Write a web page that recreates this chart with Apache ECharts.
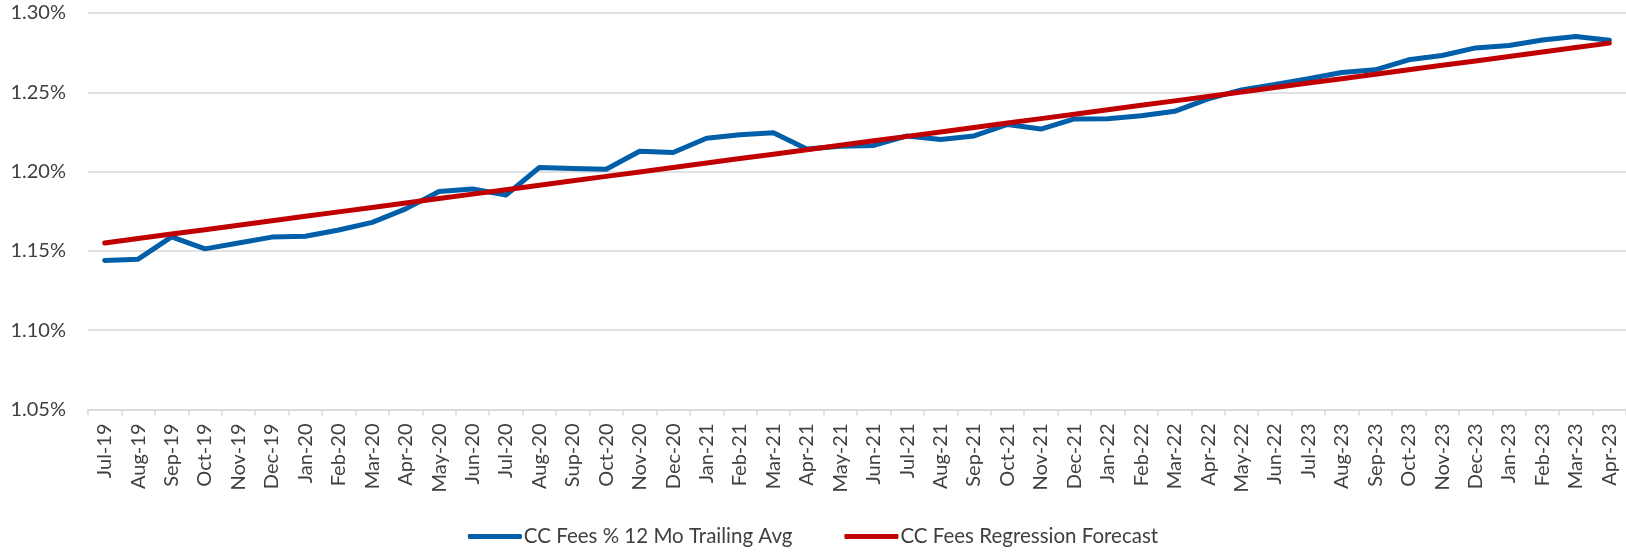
<!DOCTYPE html>
<html>
<head>
<meta charset="utf-8">
<title>CC Fees</title>
<script src="https://cdn.jsdelivr.net/npm/echarts@6/dist/echarts.min.js"></script>
<style>
  html, body { margin: 0; padding: 0; background: #fff; }
  #chart { width: 1626px; height: 552px; }
</style>
</head>
<body>
<div id="chart"></div>
<script>
// month labels, as printed on the axis (typos kept)
const months = [
  'Jul-19', 'Aug-19', 'Sep-19', 'Oct-19', 'Nov-19', 'Dec-19',
  'Jan-20', 'Feb-20', 'Mar-20', 'Apr-20', 'May-20', 'Jun-20',
  'Jul-20', 'Aug-20', 'Sup-20', 'Oct-20', 'Nov-20', 'Dec-20',
  'Jan-21', 'Feb-21', 'Mar-21', 'Apr-21', 'May-21', 'Jun-21',
  'Jul-21', 'Aug-21', 'Sep-21', 'Oct-21', 'Nov-21', 'Dec-21',
  'Jan-22', 'Feb-22', 'Mar-22', 'Apr-22', 'May-22', 'Jun-22',
  'Jul-23', 'Aug-23', 'Sep-23', 'Oct-23', 'Nov-23', 'Dec-23',
  'Jan-23', 'Feb-23', 'Mar-23', 'Apr-23'
];

// CC fees %, 12 month trailing average
const trailingAvg = [
  1.1440, 1.1448, 1.1588, 1.1513, 1.1550, 1.1587,
  1.1592, 1.1632, 1.1680, 1.1765, 1.1875, 1.1890,
  1.1852, 1.2026, 1.2020, 1.2015, 1.2128, 1.2120,
  1.2210, 1.2232, 1.2245, 1.2142, 1.2160, 1.2165,
  1.2225, 1.2202, 1.2225, 1.2297, 1.2268, 1.2332,
  1.2333, 1.2352, 1.2380, 1.2458, 1.2515, 1.2550,
  1.2585, 1.2625, 1.2642, 1.2705, 1.2732, 1.2780,
  1.2795, 1.2830, 1.2852, 1.2828
];

// regression forecast
const regression = [
  1.1550, 1.1578, 1.1606, 1.1634, 1.1662, 1.1690,
  1.1718, 1.1746, 1.1774, 1.1802, 1.1830, 1.1858,
  1.1886, 1.1914, 1.1942, 1.1970, 1.1998, 1.2026,
  1.2054, 1.2082, 1.2110, 1.2138, 1.2166, 1.2194,
  1.2222, 1.2250, 1.2278, 1.2306, 1.2334, 1.2362,
  1.2390, 1.2418, 1.2446, 1.2474, 1.2502, 1.2530,
  1.2558, 1.2586, 1.2614, 1.2642, 1.2670, 1.2698,
  1.2726, 1.2754, 1.2782, 1.2810
];

const txt = '#404040';
const font = 'Lato, "Open Sans", sans-serif';

const chart = echarts.init(document.getElementById('chart'));
chart.setOption({
  animation: false,
  textStyle: { fontFamily: font },
  grid: { left: 88, right: 0, top: 13, bottom: 142.5, containLabel: false },
  legend: {
    bottom: 0,
    left: 'center',
    icon: 'roundRect',
    itemWidth: 54,
    itemHeight: 5,
    itemGap: 52,
    textStyle: { color: txt, fontSize: 20.5, fontFamily: font, padding: [0, 0, 0, -3] },
    data: ['CC Fees % 12 Mo Trailing Avg', 'CC Fees Regression Forecast']
  },
  xAxis: {
    type: 'category',
    data: months,
    boundaryGap: true,
    axisLine: { lineStyle: { color: '#d9d9d9', width: 1.5 } },
    axisTick: { show: true, length: 6, lineStyle: { color: '#d9d9d9', width: 1.5 } },
    axisLabel: { interval: 0, rotate: 90, margin: 14, color: txt, fontSize: 20 },
    splitLine: { show: false }
  },
  yAxis: {
    type: 'value',
    min: 1.05,
    max: 1.30,
    interval: 0.05,
    axisLine: { show: false },
    axisTick: { show: false },
    axisLabel: {
      color: txt,
      fontSize: 20,
      margin: 22,
      formatter: v => v.toFixed(2) + '%'
    },
    splitLine: { lineStyle: { color: '#d9d9d9', width: 1.5 } }
  },
  series: [
    {
      name: 'CC Fees % 12 Mo Trailing Avg',
      type: 'line',
      data: trailingAvg,
      symbol: 'none',
      lineStyle: { color: '#005fa8', width: 5, cap: 'round', join: 'round' },
      itemStyle: { color: '#005fa8' }
    },
    {
      name: 'CC Fees Regression Forecast',
      type: 'line',
      data: regression,
      symbol: 'none',
      z: 3,
      lineStyle: { color: '#c00000', width: 5, cap: 'round' },
      itemStyle: { color: '#c00000' }
    }
  ]
});
</script>
</body>
</html>
